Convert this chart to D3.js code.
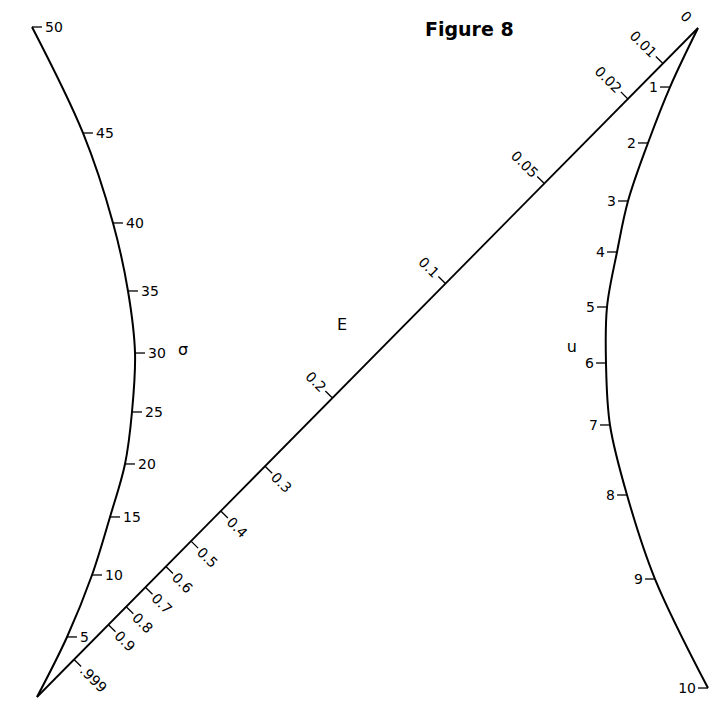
<!DOCTYPE html>
<html>
<head>
<meta charset="utf-8">
<script src="https://cdn.jsdelivr.net/npm/d3@7"></script>
<style>
  html, body { margin: 0; padding: 0; background: #fff; }
  svg { display: block; }
  text { font-family: "DejaVu Sans", sans-serif; fill: #000; }
</style>
</head>
<body>
<svg id="chart" width="720" height="727"></svg>
<script>
// Graduations of the three scales of the nomogram
const sigmaValues = [0, 5, 10, 15, 20, 25, 30, 35, 40, 45, 50];
const sigmaLabels = ["", "5", "10", "15", "20", "25", "30", "35", "40", "45", "50"];
const uValues = [0, 1, 2, 3, 4, 5, 6, 7, 8, 9, 10];
const uLabels = ["", "1", "2", "3", "4", "5", "6", "7", "8", "9", "10"];
const eValues = [0, 0.01, 0.02, 0.05, 0.1, 0.2, 0.3, 0.4, 0.5, 0.6, 0.7, 0.8, 0.9, 0.999, 1];
const eLabels = ["0", "0.01", "0.02", "0.05", "0.1", "0.2", "0.3", "0.4", "0.5", "0.6", "0.7", "0.8", "0.9", ".999", ""];

const svg = d3.select("#chart");

// Nomogram frame in unit coordinates
const x = d3.scaleLinear().domain([0, 1]).range([32, 708]);
const y = d3.scaleLinear().domain([0, 1]).range([27, 697]);

// Calibration of each curved scale (unit frame)
const sigmaX = d3.scaleLinear().domain(sigmaValues)
  .range([0.0074, 0.0518, 0.0888, 0.1154, 0.1376, 0.1479, 0.1524, 0.1420, 0.1198, 0.0754, 0.0]);
const sigmaY = d3.scaleLinear().domain(sigmaValues)
  .range([1.0, 0.9104, 0.8179, 0.7313, 0.6522, 0.5746, 0.4866, 0.3940, 0.2925, 0.1582, 0.0]);
const uX = d3.scaleLinear().domain(uValues)
  .range([0.9852, 0.9438, 0.9112, 0.8817, 0.8654, 0.8506, 0.8491, 0.8550, 0.8802, 0.9216, 1.0]);
const uY = d3.scaleLinear().domain(uValues)
  .range([0.0015, 0.0896, 0.1731, 0.2597, 0.3358, 0.4179, 0.5015, 0.5940, 0.6985, 0.8239, 0.9866]);
// E runs straight from the common vertex of u=0 to the foot of sigma=0
const eT = d3.scaleLinear().domain(eValues)
  .range([0, 0.053, 0.106, 0.2325, 0.382, 0.553, 0.655, 0.722, 0.767, 0.805, 0.836, 0.865, 0.892, 0.944, 1]);

const eStart = [x(uX(0)), y(uY(0))];
const eEnd = [x(sigmaX(0)), y(sigmaY(0))];
const ePoint = v => {
  const t = eT(v);
  return [eStart[0] + (eEnd[0] - eStart[0]) * t, eStart[1] + (eEnd[1] - eStart[1]) * t];
};
// unit normal pointing to the lower right of the E line
const dx = eEnd[0] - eStart[0], dy = eEnd[1] - eStart[1];
const len = Math.hypot(dx, dy);
const nrm = [Math.abs(dy) / len, Math.abs(dx) / len];
const angle = Math.atan2(nrm[1], nrm[0]) * 180 / Math.PI;

const line = d3.line().curve(d3.curveCatmullRom.alpha(0.5));

// sigma curve
svg.append("path")
  .attr("d", line(sigmaValues.map(v => [x(sigmaX(v)), y(sigmaY(v))])))
  .attr("fill", "none").attr("stroke", "#000").attr("stroke-width", 2);

// u curve
svg.append("path")
  .attr("d", line(uValues.map(v => [x(uX(v)), y(uY(v))])))
  .attr("fill", "none").attr("stroke", "#000").attr("stroke-width", 2);

// E line
svg.append("line")
  .attr("x1", eStart[0]).attr("y1", eStart[1])
  .attr("x2", eEnd[0]).attr("y2", eEnd[1])
  .attr("stroke", "#000").attr("stroke-width", 1.8);

const tickLen = 10;
const fs = 14;

// sigma ticks and labels (to the right)
const sg = svg.append("g");
sigmaValues.forEach((v, i) => {
  if (!sigmaLabels[i]) return;
  const px = x(sigmaX(v)), py = y(sigmaY(v));
  sg.append("line").attr("x1", px).attr("y1", py).attr("x2", px + tickLen).attr("y2", py)
    .attr("stroke", "#000").attr("stroke-width", 1.3);
  sg.append("text").attr("x", px + tickLen + 3).attr("y", py).attr("dy", "0.36em")
    .attr("font-size", fs).text(sigmaLabels[i]);
});

// u ticks and labels (to the left)
const ug = svg.append("g");
uValues.forEach((v, i) => {
  if (!uLabels[i]) return;
  const px = x(uX(v)), py = y(uY(v));
  ug.append("line").attr("x1", px).attr("y1", py).attr("x2", px - tickLen).attr("y2", py)
    .attr("stroke", "#000").attr("stroke-width", 1.3);
  ug.append("text").attr("x", px - tickLen - 2).attr("y", py).attr("dy", "0.36em")
    .attr("text-anchor", "end").attr("font-size", fs).text(uLabels[i]);
});

// E ticks and labels: small values on the upper-left side, large values on the lower-right
const eg = svg.append("g");
eValues.forEach((v, i) => {
  if (!eLabels[i]) return;
  const [px, py] = ePoint(v);
  const side = v <= 0.2 ? -1 : 1;
  const tx = nrm[0] * side, ty = nrm[1] * side;
  if (v > 0) {
    eg.append("line").attr("x1", px).attr("y1", py)
      .attr("x2", px + tx * tickLen).attr("y2", py + ty * tickLen)
      .attr("stroke", "#000").attr("stroke-width", 1.3);
  }
  const lx = px + tx * (tickLen + 2), ly = py + ty * (tickLen + 2);
  eg.append("text")
    .attr("transform", `translate(${lx},${ly}) rotate(${angle})`)
    .attr("dy", "0.36em")
    .attr("text-anchor", side < 0 ? "end" : "start")
    .attr("font-size", fs).text(eLabels[i]);
});

// scale names and title
svg.append("text").attr("x", x(0.216)).attr("y", y(0.4896)).attr("font-size", 16).text("σ");
svg.append("text").attr("x", x(0.451)).attr("y", y(0.452)).attr("font-size", 16).text("E");
svg.append("text").attr("x", x(0.791)).attr("y", y(0.485)).attr("font-size", 16).text("u");
svg.append("text").attr("x", 425).attr("y", 36).attr("font-size", 19)
  .attr("font-weight", "bold")
  .text("Figure 8");
</script>
</body>
</html>
